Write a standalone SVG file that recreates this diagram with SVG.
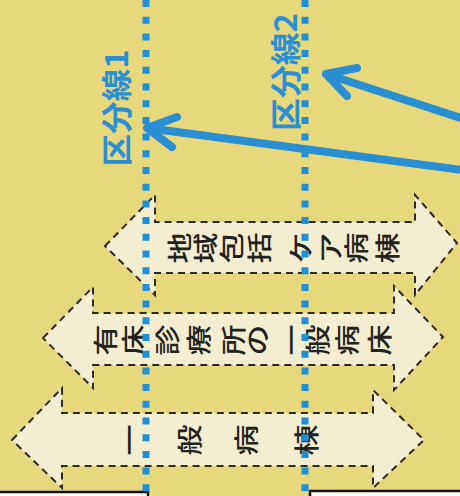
<svg xmlns="http://www.w3.org/2000/svg" width="460" height="496" viewBox="0 0 460 496">
<defs>
<style>
.band{fill:#f3eed0;stroke:#2a2a2a;stroke-width:2;stroke-dasharray:7 5;stroke-linejoin:miter}
.ch{font-family:"Noto Sans CJK JP","Noto Sans CJK SC",sans-serif;font-size:31px;font-weight:500;fill:#222;text-anchor:middle;dominant-baseline:central}
.lbl{font-family:"Noto Sans CJK JP","Noto Sans CJK SC",sans-serif;font-size:31px;font-weight:bold;fill:#2b8fd3;text-anchor:middle;dominant-baseline:central}
.dot{stroke:#1f8fd8;stroke-width:7;stroke-dasharray:7 9.7;fill:none}
.conn{stroke:#2a8fd2;stroke-width:8;fill:none;stroke-linecap:round;stroke-linejoin:round}
.box{fill:#fff;stroke:#111;stroke-width:2.5}
</style>
</defs>
<rect x="0" y="0" width="460" height="496" fill="#e8d87c"/>

<g id="band-chiiki">
<polygon class="band" points="105,246 155,195 155,222 415,222 415,195 457,243 415,295 415,273 155,273 155,295"/>
<text class="ch" transform="translate(178,248) rotate(-90) scale(1,0.8)">地</text>
<text class="ch" transform="translate(204,248) rotate(-90) scale(1,0.8)">域</text>
<text class="ch" transform="translate(230,248) rotate(-90) scale(1,0.8)">包</text>
<text class="ch" transform="translate(258,248) rotate(-90) scale(1,0.8)">括</text>
<text class="ch" transform="translate(299,248) rotate(-90) scale(1,0.8)">ケ</text>
<text class="ch" transform="translate(329,248) rotate(-90) scale(1,0.8)">ア</text>
<text class="ch" transform="translate(355,248) rotate(-90) scale(1,0.8)">病</text>
<text class="ch" transform="translate(386,248) rotate(-90) scale(1,0.8)">棟</text>
</g>

<g id="band-yushou">
<polygon class="band" points="43,338 93,287 93,313 394,313 394,286 443,337 394,390 394,365 93,365 93,388"/>
<text class="ch" transform="translate(104,340) rotate(-90) scale(1,0.8)">有</text>
<text class="ch" transform="translate(132,340) rotate(-90) scale(1,0.8)">床</text>
<text class="ch" transform="translate(166,340) rotate(-90) scale(1,0.8)">診</text>
<text class="ch" transform="translate(197,340) rotate(-90) scale(1,0.8)">療</text>
<text class="ch" transform="translate(232,340) rotate(-90) scale(1,0.8)">所</text>
<text class="ch" transform="translate(256,340) rotate(-90) scale(1,0.8)">の</text>
<text class="ch" transform="translate(290,340) rotate(-90) scale(1,0.8)">一</text>
<text class="ch" transform="translate(316,340) rotate(-90) scale(1,0.8)">般</text>
<text class="ch" transform="translate(346,340) rotate(-90) scale(1,0.8)">病</text>
<text class="ch" transform="translate(378,340) rotate(-90) scale(1,0.8)">床</text>
</g>

<g id="band-ippan">
<polygon class="band" points="12,440 62,388 62,413 373,413 373,390 424,440 373,488 373,466 62,466 62,488"/>
<text class="ch" transform="translate(128,440) rotate(-90) scale(1,0.8)">一</text>
<text class="ch" transform="translate(188,440) rotate(-90) scale(1,0.8)">般</text>
<text class="ch" transform="translate(245,440) rotate(-90) scale(1,0.8)">病</text>
<text class="ch" transform="translate(305,440) rotate(-90) scale(1,0.8)">棟</text>
</g>

<g id="bottom-boxes">
<rect class="box" x="-3" y="492" width="151" height="10"/>
<rect class="box" x="310" y="491" width="155" height="10"/>
</g>

<g id="line1">
<line class="dot" x1="146" y1="0" x2="146" y2="496"/>
<text class="lbl" transform="translate(114,108) rotate(-90)" textLength="117" lengthAdjust="spacingAndGlyphs">区分線1</text>
</g>
<g id="line2">
<line class="dot" x1="305" y1="0" x2="305" y2="496"/>
<text class="lbl" transform="translate(283,72) rotate(-90)" textLength="118" lengthAdjust="spacingAndGlyphs">区分線2</text>
</g>

<g id="connectors">
<path class="conn" d="M470,171 L147,128 M177,117 L147,128 L172,147"/>
<path class="conn" d="M470,121 L326,74 M357,68 L326,74 L347,96"/>
</g>
</svg>
